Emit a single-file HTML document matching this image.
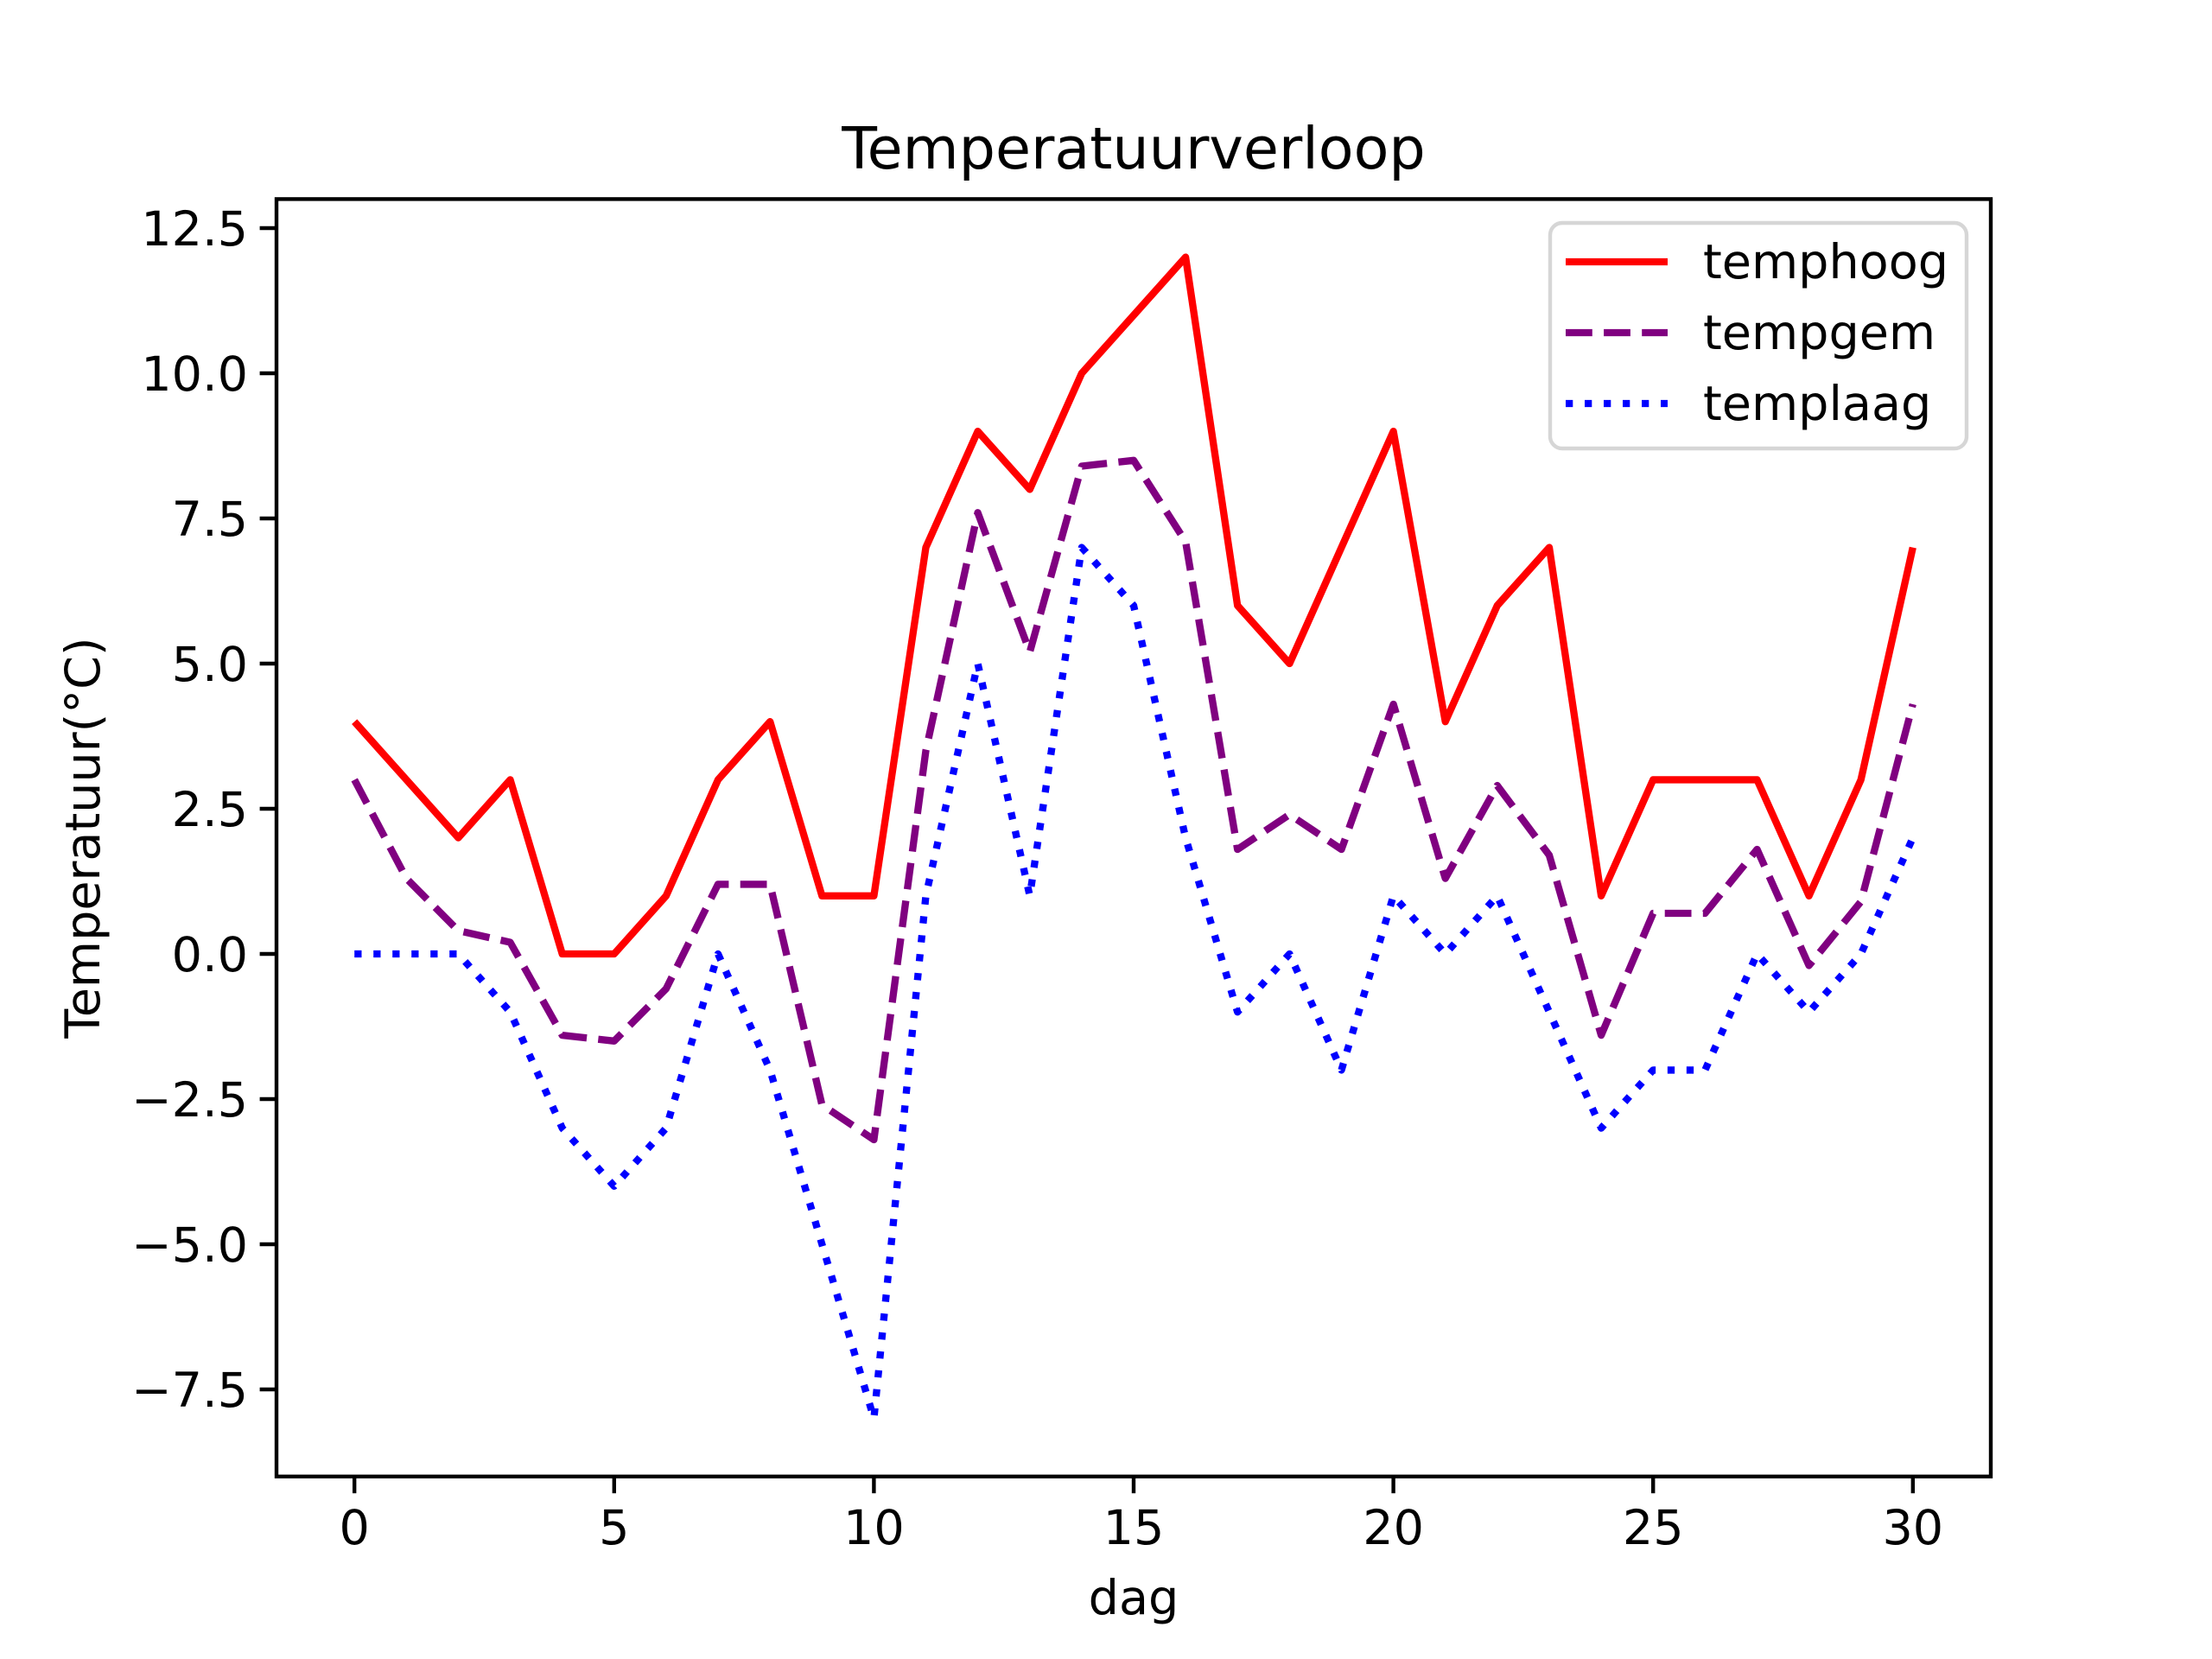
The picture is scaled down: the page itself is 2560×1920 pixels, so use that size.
<!DOCTYPE html>
<html><head><meta charset="utf-8"><style>
html,body{margin:0;padding:0;background:#fff}
svg{display:block}
text{font-family:"DejaVu Sans","Liberation Sans",sans-serif;fill:#000}
</style></head><body>
<svg id="s" width="2560" height="1920" xmlns="http://www.w3.org/2000/svg"></svg>
<script>
const hi=[4,3,2,3,0,0,1,3,4,1,1,7,9,8,10,11,12,6,5,7,9,4,6,7,1,3,3,3,1,3,7];
const gm=[3,1.3,0.4,0.2,-1.4,-1.5,-0.6,1.2,1.2,-2.6,-3.2,3.5,7.6,5.2,8.4,8.5,7.1,1.8,2.4,1.8,4.3,1.3,2.9,1.7,-1.4,0.7,0.7,1.8,-0.2,0.9,4.3];
const lo=[0,0,0,-1,-3,-4,-3,0,-2,-5,-8,1,5,1,7,6,2,-1,0,-2,1,0,1,-1,-3,-2,-2,0,-1,0,2];
const L=320,R=2304,T=230.4,B=1708.8;
const X=x=>L+(x+1.5)/33*(R-L), Y=y=>B-(y+9)/22*(B-T);
let h='';
function pl(d,c,da){return `<polyline fill="none" stroke="${c}" stroke-width="8.33" stroke-linejoin="round" stroke-linecap="butt" ${da?`stroke-dasharray="${da}"`:''} points="${d.map((v,i)=>X(i).toFixed(1)+','+Y(v).toFixed(1)).join(' ')}"/>`;}
h+=pl(hi,'#ff0000');
h+=pl(gm,'#800080','30.8 13.3');
h+=pl(lo,'#0000ff','8.3 13.7');
h+=`<rect x="${L}" y="${T}" width="${R-L}" height="${B-T}" fill="none" stroke="#000" stroke-width="4.4"/>`;
for(let x=0;x<=30;x+=5){h+=`<line x1="${X(x)}" x2="${X(x)}" y1="${B}" y2="${B+19.4}" stroke="#000" stroke-width="4.4"/><text x="${X(x)}" y="${B+78}" font-size="55.6" text-anchor="middle">${x}</text>`;}
for(let y=-7.5;y<=12.5;y+=2.5){const t=(y<0?'\u2212':'')+Math.abs(y).toFixed(1);h+=`<line x1="${L-19.4}" x2="${L}" y1="${Y(y)}" y2="${Y(y)}" stroke="#000" stroke-width="4.4"/><text x="${L-33}" y="${Y(y)+20}" font-size="55.6" text-anchor="end">${t}</text>`;}
h+=`<text x="${(L+R)/2}" y="1868" font-size="55.6" text-anchor="middle">dag</text>`;
h+=`<text transform="translate(115,${(T+B)/2}) rotate(-90)" font-size="55.6" text-anchor="middle">Temperatuur(°C)</text>`;
h+=`<text x="${(L+R)/2}" y="195" font-size="66.7" text-anchor="middle">Temperatuurverloop</text>`;
h+=`<rect x="1794" y="258" width="482" height="261" rx="14" fill="#fff" fill-opacity="0.8" stroke="#d6d6d6" stroke-width="4.4"/>`;
const lg=[['temphoog','#ff0000',''],['tempgem','#800080','30.8 13.3'],['templaag','#0000ff','8.3 13.7']];
lg.forEach((e,i)=>{const y=303+i*82;h+=`<line x1="1812" x2="1930" y1="${y}" y2="${y}" stroke="${e[1]}" stroke-width="8.33" ${e[2]?`stroke-dasharray="${e[2]}"`:''}/><text x="1971" y="${y+19}" font-size="55.6">${e[0]}</text>`;});
document.getElementById('s').innerHTML=h;
</script>
</body></html>
